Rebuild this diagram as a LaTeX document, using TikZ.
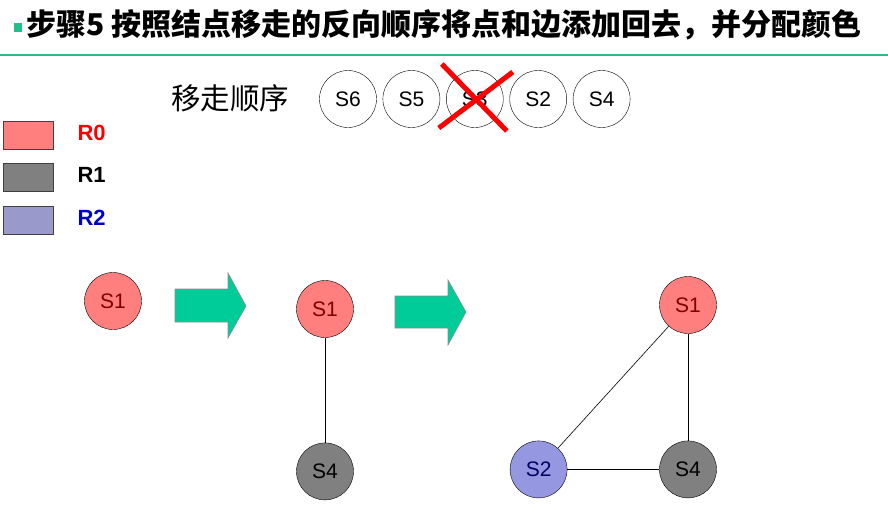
\documentclass[tikz,border=0pt]{standalone}
\usepackage{fontspec}
\setmainfont{Liberation Sans}
\newfontfamily\cjk{Noto Sans CJK SC}
\usetikzlibrary{positioning, calc}
\definecolor{rzero}{HTML}{FF7F7F}
\definecolor{rone}{HTML}{808080}
\definecolor{rtwo}{HTML}{9999CC}
\definecolor{stwo}{HTML}{9597E0}
\definecolor{barline}{HTML}{22BF8A}
\definecolor{arrowfill}{HTML}{00CC99}

\begin{document}
\begin{tikzpicture}[
    x=1pt, y=-1pt,
    vert/.style={draw, circle, minimum size=57pt, inner sep=0pt, font=\fontsize{21}{21}\selectfont},
    order/.style={vert, fill=white},
    swatch/.style={draw=black!75, minimum width=50pt, minimum height=28pt, inner sep=0pt},
    tag/.style={anchor=west, font=\fontsize{22}{22}\selectfont\bfseries},
    bigarrow/.style={fill=arrowfill, draw=black!45, line width=0.6pt},
    edge/.style={line width=1pt}
]
\useasboundingbox (0,0) rectangle (888,528);

% title
\fill[barline] (14,23) rectangle (22,32);
\node[anchor=west, inner sep=0pt, font=\cjk\bfseries\fontsize{30}{30}\selectfont] (title) at (26,25)
    {步骤5 按照结点移走的反向顺序将点和边添加回去，并分配颜色};
\draw[barline, line width=2pt] (0,55) -- (888,55);

% removal order
\node[anchor=west, inner sep=0pt, font=\cjk\fontsize{29.5}{29.5}\selectfont] (ordlabel) at (171,98) {移走顺序};
\node[order] (s6) at (348,99) {S6};
\node[order, right=6pt of s6] (s5) {S5};
\node[order, right=6pt of s5] (s3) {S3};
\node[order, right=6pt of s3] (s2) {S2};
\node[order, right=6pt of s2] (s4) {S4};
\draw[red, line width=5pt] ($(s3)+(-33,-35)$) -- ($(s3)+(32,32)$);
\draw[red, line width=5pt] ($(s3)+(38,-27)$) -- ($(s3)+(-36,29)$);

% legend
\node[swatch, fill=rzero] (sw0) at (28,135) {};
\node[swatch, fill=rone] (sw1) at (28,177) {};
\node[swatch, fill=rtwo] (sw2) at (28,220) {};
\node[tag, text=red] (r0) at (74,133) {R0};
\node[tag, text=black] (r1) at (74,175) {R1};
\node[tag, text=blue!80!black] (r2) at (74,218) {R2};

% step one
\node[vert, fill=rzero, text=red!50!black] (a1) at (113,301) {S1};
\draw[bigarrow] (175,289) -- (228,289) -- (228,273) -- (246,306) -- (228,338) -- (228,322) -- (175,322) -- cycle;

% step two
\node[vert, fill=rzero, text=red!50!black] (b1) at (325,309) {S1};
\node[vert, fill=rone, below=105pt of b1] (b4) {S4};
\draw[edge] (b1) -- (b4);
\draw[bigarrow] (395,296) -- (448,296) -- (448,280) -- (466,312) -- (448,345) -- (448,328) -- (395,328) -- cycle;

% step three
\node[vert, fill=rzero, text=red!50!black] (c1) at (688,305) {S1};
\node[vert, fill=rone, below=107pt of c1] (c4) {S4};
\node[vert, fill=stwo, text=blue!40!black, left=92pt of c4] (c2) {S2};
\draw[edge] (c1) -- (c4);
\draw[edge] (c2) -- (c4);
\draw[line width=0.6pt] (c1) -- (c2);
\end{tikzpicture}
\end{document}
